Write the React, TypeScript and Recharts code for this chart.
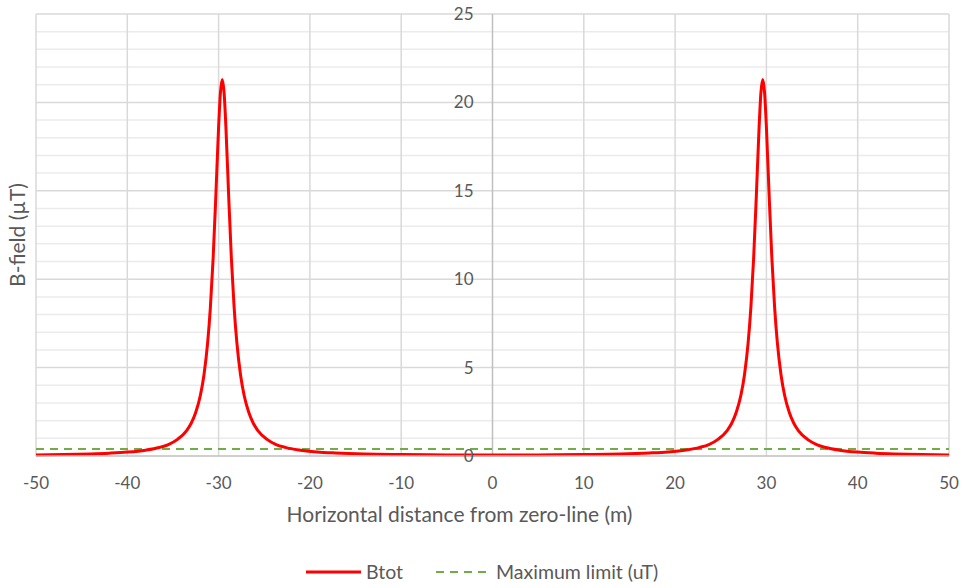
import React from "react";
import {
  Legend,
  Line,
  LineChart,
  ReferenceDot,
  ReferenceLine,
  XAxis,
  YAxis,
} from "recharts";

// distance from zero-line (m)
const xValues = [
  -50, -47, -44, -42, -40, -38, -36.5, -35.5, -34.5, -33.5, -33, -32.5, -32, -31.6, -31.2, -30.9,
  -30.6, -30.3, -30, -29.8, -29.6, -29.4, -29.2, -28.9, -28.6, -28.3, -28, -27.6, -27.2, -26.7,
  -26.2, -25.7, -24.7, -23.7, -22.7, -21.2, -19.2, -17.2, -14, -10, -5, 0, 5, 10, 14, 17.2, 19.2,
  21.2, 22.7, 23.7, 24.7, 25.7, 26.2, 26.7, 27.2, 27.6, 28, 28.3, 28.6, 28.9, 29.2, 29.4, 29.6,
  29.8, 30, 30.3, 30.6, 30.9, 31.2, 31.6, 32, 32.5, 33, 33.5, 34.5, 35.5, 36.5, 38, 40, 42, 44, 47,
  50,
];

// Btot (µT)
const btotValues = [
  0.06, 0.08, 0.12, 0.16, 0.22, 0.33, 0.48, 0.65, 0.94, 1.44, 1.85, 2.47, 3.42, 4.6, 6.41, 8.41,
  11.17, 14.75, 18.6, 20.55, 21.3, 20.55, 18.6, 14.75, 11.17, 8.41, 6.41, 4.6, 3.42, 2.47, 1.85,
  1.44, 0.94, 0.65, 0.49, 0.34, 0.23, 0.17, 0.11, 0.08, 0.06, 0.05, 0.06, 0.08, 0.11, 0.17, 0.23,
  0.34, 0.49, 0.65, 0.94, 1.44, 1.85, 2.47, 3.42, 4.6, 6.41, 8.41, 11.17, 14.75, 18.6, 20.55, 21.3,
  20.55, 18.6, 14.75, 11.17, 8.41, 6.41, 4.6, 3.42, 2.47, 1.85, 1.44, 0.94, 0.65, 0.48, 0.33, 0.22,
  0.16, 0.12, 0.08, 0.06,
];

const maxLimit = 0.4;

const xTicks = [-50, -40, -30, -20, -10, 0, 10, 20, 30, 40, 50];
const yLabelTicks = [0, 5, 10, 15, 20, 25];
const yMinorLines = [1, 2, 3, 4, 6, 7, 8, 9, 11, 12, 13, 14, 16, 17, 18, 19, 21, 22, 23, 24];
const yMajorLines = [5, 10, 15, 20, 25];
const xGridLines = [-50, -40, -30, -20, -10, 10, 20, 30, 40, 50];

const data = xValues.map((x, i) => ({ x, btot: btotValues[i], limit: maxLimit }));

const FONT = "Lato, 'Open Sans', sans-serif";
const TEXT = "#595959";

function LegendContent() {
  return (
    <div
      style={{
        display: "flex",
        justifyContent: "center",
        alignItems: "center",
        fontFamily: FONT,
        fontSize: 19.5,
        color: TEXT,
      }}
    >
      <svg width={57} height={10} style={{ marginRight: 4 }}>
        <line x1={1} y1={5} x2={56} y2={5} stroke="#ff0000" strokeWidth={3} />
      </svg>
      <span style={{ marginRight: 32 }}>Btot</span>
      <svg width={55} height={10} style={{ marginRight: 6 }}>
        <line x1={1} y1={5} x2={54} y2={5} stroke="#70ad47" strokeWidth={2} strokeDasharray="8 6" />
      </svg>
      <span>Maximum limit (uT)</span>
    </div>
  );
}

export default function App() {
  return (
    <div style={{ position: "absolute", left: 0, top: 0, background: "#fff" }}>
      <LineChart
        width={963}
        height={588}
        data={data}
        margin={{ top: 14, right: 14, left: 0, bottom: 72 }}
        style={{ fontFamily: FONT }}
      >
        <XAxis
          dataKey="x"
          type="number"
          domain={[-50, 50]}
          ticks={xTicks}
          height={30}
          tickSize={0}
          tickMargin={21}
          tickLine={false}
          axisLine={{ stroke: "#bfbfbf", strokeWidth: 1.5 }}
          tick={{ fill: TEXT, fontSize: 17 }}
          label={{
            value: "Horizontal distance from zero-line (m)",
            position: "bottom",
            offset: 21,
            dx: -33,
            fill: TEXT,
            fontSize: 21,
          }}
        />
        <YAxis
          type="number"
          domain={[0, 25]}
          width={36}
          tick={false}
          tickLine={false}
          axisLine={false}
          label={{
            value: "B-field (µT)",
            angle: -90,
            position: "center",
            fill: TEXT,
            fontSize: 21,
          }}
        />
        {yMinorLines.map((v) => (
          <ReferenceLine key={`mn${v}`} y={v} stroke="#ebebeb" strokeWidth={1.5} />
        ))}
        {yMajorLines.map((v) => (
          <ReferenceLine key={`mj${v}`} y={v} stroke="#d9d9d9" strokeWidth={1.5} />
        ))}
        {xGridLines.map((v) => (
          <ReferenceLine key={`vx${v}`} x={v} stroke="#d9d9d9" strokeWidth={1.5} />
        ))}
        <ReferenceLine x={0} stroke="#bfbfbf" strokeWidth={1.5} />
        {yLabelTicks.map((v) => (
          <ReferenceDot
            key={`yl${v}`}
            x={0}
            y={v}
            r={1}
            fill="none"
            stroke="none"
            label={{ value: String(v), position: "left", offset: 18, fill: TEXT, fontSize: 17 }}
          />
        ))}
        <Line
          type="monotone"
          dataKey="limit"
          stroke="#70ad47"
          strokeWidth={2}
          strokeDasharray="8 6"
          dot={false}
          isAnimationActive={false}
        />
        <Line
          type="monotone"
          dataKey="btot"
          stroke="#ff0000"
          strokeWidth={3}
          dot={false}
          isAnimationActive={false}
        />
        <Legend
          verticalAlign="bottom"
          height={30}
          content={<LegendContent />}
          wrapperStyle={{ top: 560, bottom: "auto", left: 0, width: 963 }}
        />
      </LineChart>
    </div>
  );
}
